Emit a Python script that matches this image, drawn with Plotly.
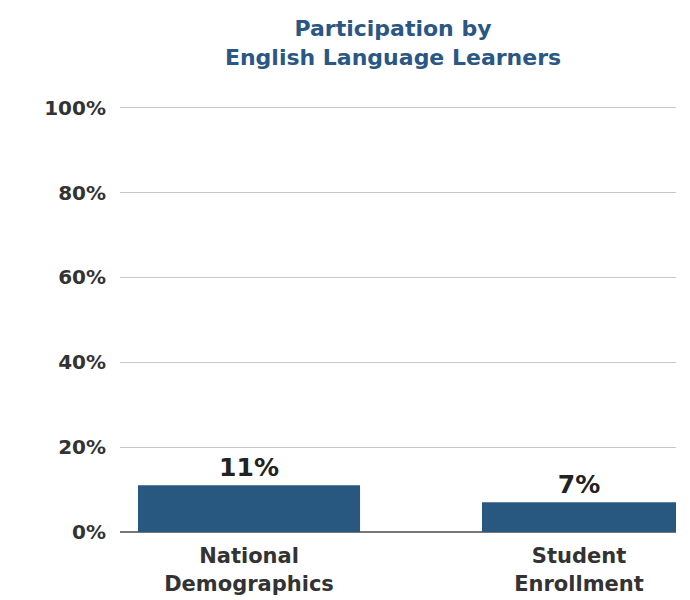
import plotly.graph_objects as go

categories = ["National<br>Demographics", "Student<br>Enrollment"]
values = [11, 7]
labels = ["11%", "7%"]
y_ticks = [0, 20, 40, 60, 80, 100]
y_tick_text = ["0%", "20%", "40%", "60%", "80%", "100%"]

FONT = "DejaVu Sans"


def main():
    fig = go.Figure(go.Bar(
        x=[0, 1],
        y=values,
        text=labels,
        textposition="outside",
        cliponaxis=False,
        width=[0.673, 0.588],
        marker=dict(color="#28577f", line=dict(width=0)),
        textfont=dict(family=FONT, size=25, color="#222222", weight=700),
    ))

    fig.update_layout(
        title=dict(
            text="Participation by<br>English Language Learners",
            x=0.558, xanchor="center", y=0.953, yanchor="top",
            font=dict(family=FONT, size=22, color="#2a5783", weight=700),
        ),
        font=dict(family=FONT, size=20, color="#333333", weight=700),
        plot_bgcolor="white",
        paper_bgcolor="white",
        margin=dict(l=112, r=22, t=98, b=72),
        width=690, height=600,
        showlegend=False,
    )

    fig.update_xaxes(
        tickvals=[0, 1], ticktext=categories,
        range=[-0.391, 1.294],
        showgrid=False, showline=False,
        ticks="outside", ticklen=5, tickcolor="white",
        tickfont=dict(family=FONT, size=21, color="#333333", weight=700),
    )
    fig.update_yaxes(
        range=[0, 100.4], tickvals=y_ticks, ticktext=y_tick_text,
        showgrid=True, gridcolor="#c8c8c8", gridwidth=1,
        zeroline=True, zerolinecolor="#777777", zerolinewidth=2,
        ticks="outside", ticklen=9, tickcolor="white",
        tickfont=dict(family=FONT, size=20, color="#333333", weight=700),
    )

    fig.write_html("out.html")


if __name__ == "__main__":
    main()
